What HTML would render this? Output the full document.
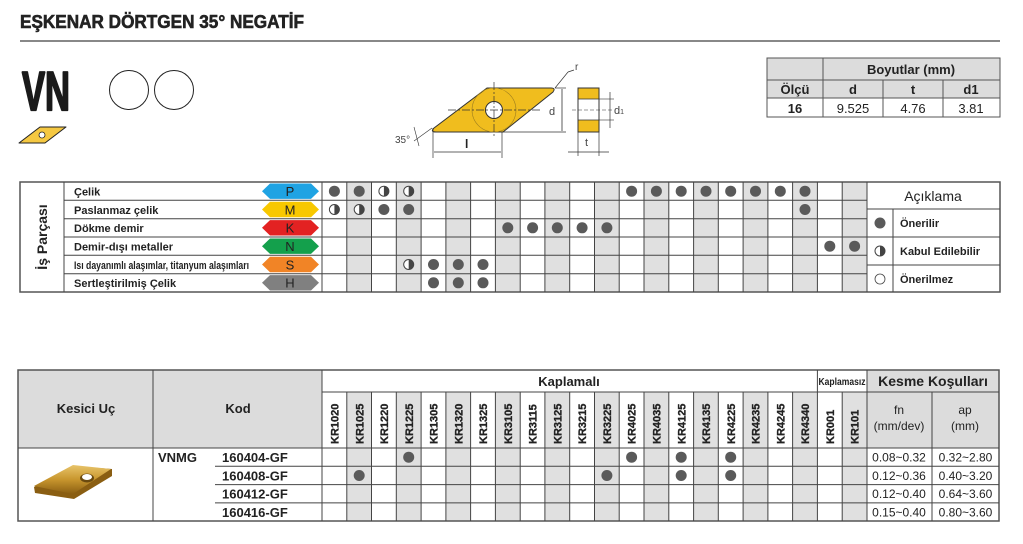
<!DOCTYPE html>
<html><head><meta charset="utf-8"><style>
html,body{margin:0;padding:0;background:#fff;}
svg{display:block;font-family:"Liberation Sans",sans-serif;}
.b{font-weight:bold}
.n{font-family:"Liberation Sans Narrow","Liberation Sans",sans-serif;font-weight:bold;}
</style></head><body>
<svg width="1023" height="544" viewBox="0 0 1023 544" xmlns="http://www.w3.org/2000/svg">
<defs>
<linearGradient id="gold" x1="0" y1="0" x2="0" y2="1">
<stop offset="0" stop-color="#e8c46a"/><stop offset="0.5" stop-color="#c8962e"/><stop offset="1" stop-color="#8a5e12"/>
</linearGradient>
</defs>
<text x="20" y="28" class="b" font-size="18" fill="#222" stroke="#222" stroke-width="0.6" textLength="284" lengthAdjust="spacingAndGlyphs">EŞKENAR DÖRTGEN 35° NEGATİF</text>
<rect x="20" y="40" width="980" height="2" fill="#888"/>
<text x="22" y="110" class="b" font-size="55" fill="#1a1a1a" stroke="#1a1a1a" stroke-width="2.2" stroke-linejoin="round" textLength="48" lengthAdjust="spacingAndGlyphs">VN</text>
<circle cx="129" cy="90" r="19.5" fill="none" stroke="#222" stroke-width="1"/>
<circle cx="174" cy="90" r="19.5" fill="none" stroke="#222" stroke-width="1"/>
<polygon points="40,127 66,127 45,143 19,143" fill="#f5c842" stroke="#222" stroke-width="1" stroke-linejoin="round"/>
<circle cx="42" cy="135" r="3" fill="#fff" stroke="#222" stroke-width="0.8"/>
<path d="M487,88 L551,88 Q556,88 553,92 L503,132 L436,132 Q430,132 434,128 Z" fill="#f0bd1e" stroke="#333" stroke-width="1"/>
<circle cx="494" cy="110" r="22" fill="none" stroke="#a08020" stroke-width="0.6"/>
<circle cx="494" cy="110" r="8.5" fill="#fff" stroke="#333" stroke-width="1"/>
<line x1="448" y1="110" x2="540" y2="110" stroke="#333" stroke-width="0.7" stroke-dasharray="8,2,2,2"/>
<line x1="494" y1="82" x2="494" y2="138" stroke="#333" stroke-width="0.7" stroke-dasharray="8,2,2,2"/>
<line x1="503" y1="132" x2="566" y2="132" stroke="#333" stroke-width="0.7"/>
<line x1="555" y1="88" x2="566" y2="88" stroke="#333" stroke-width="0.7"/>
<line x1="562" y1="89" x2="562" y2="131" stroke="#333" stroke-width="0.8"/>
<text x="549" y="115" font-size="11" fill="#444">d</text>
<line x1="555" y1="88" x2="568" y2="72" stroke="#333" stroke-width="0.7"/>
<line x1="568" y1="72" x2="574" y2="70" stroke="#333" stroke-width="0.7"/>
<text x="575" y="70" font-size="10" fill="#444">r</text>
<line x1="433" y1="128" x2="433" y2="158" stroke="#333" stroke-width="0.7"/>
<line x1="502" y1="132" x2="502" y2="158" stroke="#333" stroke-width="0.7"/>
<line x1="434" y1="152" x2="501" y2="152" stroke="#333" stroke-width="0.8"/>
<text x="465" y="148" class="b" font-size="12" fill="#222">l</text>
<text x="395" y="143" font-size="10" fill="#444">35°</text>
<line x1="414" y1="141" x2="432" y2="128" stroke="#333" stroke-width="0.6"/>
<line x1="414" y1="127" x2="419" y2="146" stroke="#333" stroke-width="0.6"/>
<rect x="578" y="88" width="21" height="44" fill="#f0bd1e" stroke="#333" stroke-width="1"/>
<rect x="578.5" y="99" width="20" height="21" fill="#fff"/>
<line x1="578" y1="99" x2="599" y2="99" stroke="#333" stroke-width="0.7"/>
<line x1="578" y1="120" x2="599" y2="120" stroke="#333" stroke-width="0.7"/>
<line x1="572" y1="110" x2="612" y2="110" stroke="#333" stroke-width="0.6" stroke-dasharray="4,2"/>
<line x1="610" y1="92" x2="610" y2="128" stroke="#333" stroke-width="0.7"/>
<line x1="599" y1="99" x2="614" y2="99" stroke="#333" stroke-width="0.6"/>
<line x1="599" y1="120" x2="614" y2="120" stroke="#333" stroke-width="0.6"/>
<text x="614" y="114" font-size="11" fill="#444">d<tspan font-size="7">1</tspan></text>
<line x1="578" y1="132" x2="578" y2="156" stroke="#333" stroke-width="0.7"/>
<line x1="599" y1="132" x2="599" y2="156" stroke="#333" stroke-width="0.7"/>
<line x1="568" y1="152" x2="609" y2="152" stroke="#333" stroke-width="0.7"/>
<text x="585" y="146" font-size="11" fill="#444">t</text>
<rect x="767" y="58" width="233" height="40" fill="#dcdcdc"/>
<g stroke="#555" stroke-width="1" fill="none">
<rect x="767" y="58" width="233" height="59"/>
<line x1="767" y1="80" x2="1000" y2="80"/>
<line x1="767" y1="98" x2="1000" y2="98"/>
<line x1="823" y1="58" x2="823" y2="117"/>
<line x1="883" y1="80" x2="883" y2="117"/>
<line x1="943" y1="80" x2="943" y2="117"/>
</g>
<g font-size="13" fill="#222" text-anchor="middle">
<text x="911" y="74" class="b">Boyutlar (mm)</text>
<text x="795" y="94" class="b">Ölçü</text>
<text x="853" y="94" class="b">d</text>
<text x="913" y="94" class="b">t</text>
<text x="971" y="94" class="b">d1</text>
<text x="795" y="113" class="b">16</text>
<text x="853" y="113">9.525</text>
<text x="913" y="113">4.76</text>
<text x="971" y="113">3.81</text>
</g>
<g fill="#e0e0e0">
<rect x="346.8" y="182" width="24.8" height="110"/><rect x="396.3" y="182" width="24.8" height="110"/>
<rect x="445.9" y="182" width="24.8" height="110"/><rect x="495.4" y="182" width="24.8" height="110"/>
<rect x="544.9" y="182" width="24.8" height="110"/><rect x="594.5" y="182" width="24.8" height="110"/>
<rect x="644.0" y="182" width="24.8" height="110"/><rect x="693.6" y="182" width="24.8" height="110"/>
<rect x="743.1" y="182" width="24.8" height="110"/><rect x="792.6" y="182" width="24.8" height="110"/>
<rect x="842.2" y="182" width="24.8" height="110"/>
</g>
<g stroke="#444" stroke-width="1" fill="none">
<rect x="20" y="182" width="980" height="110" stroke="#555" stroke-width="1.5"/>
<line x1="64" y1="182" x2="64" y2="292"/>
<line x1="64" y1="200.3" x2="867" y2="200.3"/><line x1="64" y1="218.7" x2="867" y2="218.7"/>
<line x1="64" y1="237" x2="867" y2="237"/><line x1="64" y1="255.3" x2="867" y2="255.3"/>
<line x1="64" y1="273.7" x2="867" y2="273.7"/>
<line x1="322" y1="182" x2="322" y2="292"/>
<line x1="346.8" y1="182" x2="346.8" y2="292"/><line x1="371.5" y1="182" x2="371.5" y2="292"/>
<line x1="396.3" y1="182" x2="396.3" y2="292"/><line x1="421.1" y1="182" x2="421.1" y2="292"/>
<line x1="445.9" y1="182" x2="445.9" y2="292"/><line x1="470.6" y1="182" x2="470.6" y2="292"/>
<line x1="495.4" y1="182" x2="495.4" y2="292"/><line x1="520.2" y1="182" x2="520.2" y2="292"/>
<line x1="544.9" y1="182" x2="544.9" y2="292"/><line x1="569.7" y1="182" x2="569.7" y2="292"/>
<line x1="594.5" y1="182" x2="594.5" y2="292"/><line x1="619.2" y1="182" x2="619.2" y2="292"/>
<line x1="644.0" y1="182" x2="644.0" y2="292"/><line x1="668.8" y1="182" x2="668.8" y2="292"/>
<line x1="693.6" y1="182" x2="693.6" y2="292"/><line x1="718.3" y1="182" x2="718.3" y2="292"/>
<line x1="743.1" y1="182" x2="743.1" y2="292"/><line x1="767.9" y1="182" x2="767.9" y2="292"/>
<line x1="792.6" y1="182" x2="792.6" y2="292"/><line x1="817.4" y1="182" x2="817.4" y2="292"/>
<line x1="842.2" y1="182" x2="842.2" y2="292"/><line x1="867" y1="182" x2="867" y2="292"/>
<line x1="867" y1="209" x2="1000" y2="209"/><line x1="867" y1="237" x2="1000" y2="237"/>
<line x1="867" y1="265" x2="1000" y2="265"/><line x1="893" y1="209" x2="893" y2="292"/>
</g>
<text transform="translate(47,237) rotate(-90)" text-anchor="middle" class="b" font-size="14" fill="#222">İş Parçası</text>
<g class="n" font-size="11" fill="#222">
<text x="74" y="195.5">Çelik</text>
<text x="74" y="213.8">Paslanmaz çelik</text>
<text x="74" y="232">Dökme demir</text>
<text x="74" y="250.4">Demir-dışı metaller</text>
<text x="74" y="268.8" textLength="175" lengthAdjust="spacingAndGlyphs">Isı dayanımlı alaşımlar, titanyum alaşımları</text>
<text x="74" y="287">Sertleştirilmiş Çelik</text>
</g>
<g stroke="none">
<polygon points="262,191.2 270,183.5 311,183.5 319,191.2 311,198.9 270,198.9" fill="#1fa3e3"/>
<polygon points="262,209.5 270,201.8 311,201.8 319,209.5 311,217.2 270,217.2" fill="#f8c800"/>
<polygon points="262,227.8 270,220.1 311,220.1 319,227.8 311,235.5 270,235.5" fill="#e32222"/>
<polygon points="262,246.2 270,238.5 311,238.5 319,246.2 311,253.9 270,253.9" fill="#14a04c"/>
<polygon points="262,264.5 270,256.8 311,256.8 319,264.5 311,272.2 270,272.2" fill="#f18426"/>
<polygon points="262,282.8 270,275.1 311,275.1 319,282.8 311,290.5 270,290.5" fill="#808080"/>
</g>
<g font-size="13" fill="#222" text-anchor="middle">
<text x="290" y="196">P</text><text x="290" y="214.3">M</text><text x="290" y="232.6">K</text>
<text x="290" y="251">N</text><text x="290" y="269.3">S</text><text x="290" y="287.6">H</text>
</g>
<g fill="#5a5a5a">
<circle cx="334.4" cy="191.2" r="5.5"/><circle cx="359.2" cy="191.2" r="5.5"/>
<circle cx="631.6" cy="191.2" r="5.5"/><circle cx="656.4" cy="191.2" r="5.5"/><circle cx="681.2" cy="191.2" r="5.5"/>
<circle cx="706.0" cy="191.2" r="5.5"/><circle cx="730.7" cy="191.2" r="5.5"/><circle cx="755.5" cy="191.2" r="5.5"/>
<circle cx="780.3" cy="191.2" r="5.5"/><circle cx="805.0" cy="191.2" r="5.5"/>
<circle cx="383.9" cy="209.5" r="5.5"/><circle cx="408.7" cy="209.5" r="5.5"/><circle cx="805.0" cy="209.5" r="5.5"/>
<circle cx="507.8" cy="227.8" r="5.5"/><circle cx="532.6" cy="227.8" r="5.5"/><circle cx="557.3" cy="227.8" r="5.5"/>
<circle cx="582.1" cy="227.8" r="5.5"/><circle cx="606.9" cy="227.8" r="5.5"/>
<circle cx="829.8" cy="246.2" r="5.5"/><circle cx="854.6" cy="246.2" r="5.5"/>
<circle cx="433.5" cy="264.5" r="5.5"/><circle cx="458.3" cy="264.5" r="5.5"/><circle cx="483.0" cy="264.5" r="5.5"/>
<circle cx="433.5" cy="282.8" r="5.5"/><circle cx="458.3" cy="282.8" r="5.5"/><circle cx="483.0" cy="282.8" r="5.5"/>
<circle cx="880" cy="223" r="5.5"/>
</g>
<g stroke="#444" stroke-width="1" fill="#fff">
<circle cx="383.9" cy="191.2" r="5"/><circle cx="408.7" cy="191.2" r="5"/>
<circle cx="334.4" cy="209.5" r="5"/><circle cx="359.2" cy="209.5" r="5"/>
<circle cx="408.7" cy="264.5" r="5"/><circle cx="880" cy="251" r="5"/>
<circle cx="880" cy="279" r="5" stroke-width="0.8"/>
</g>
<g fill="#444">
<path d="M383.9,186.2 A5,5 0 0 1 383.9,196.2 Z"/><path d="M408.7,186.2 A5,5 0 0 1 408.7,196.2 Z"/>
<path d="M334.4,204.5 A5,5 0 0 1 334.4,214.5 Z"/><path d="M359.2,204.5 A5,5 0 0 1 359.2,214.5 Z"/>
<path d="M408.7,259.5 A5,5 0 0 1 408.7,269.5 Z"/><path d="M880,246 A5,5 0 0 1 880,256 Z"/>
</g>
<text x="933" y="201" text-anchor="middle" font-size="14" fill="#222">Açıklama</text>
<g class="n" font-size="11" fill="#222">
<text x="900" y="227">Önerilir</text>
<text x="900" y="255">Kabul Edilebilir</text>
<text x="900" y="283">Önerilmez</text>
</g>
<rect x="18" y="370" width="304" height="78" fill="#dcdcdc"/>
<rect x="867" y="370" width="132" height="78" fill="#dcdcdc"/>
<g fill="#e0e0e0">
<rect x="346.8" y="392" width="24.8" height="129"/><rect x="396.3" y="392" width="24.8" height="129"/>
<rect x="445.9" y="392" width="24.8" height="129"/><rect x="495.4" y="392" width="24.8" height="129"/>
<rect x="544.9" y="392" width="24.8" height="129"/><rect x="594.5" y="392" width="24.8" height="129"/>
<rect x="644.0" y="392" width="24.8" height="129"/><rect x="693.6" y="392" width="24.8" height="129"/>
<rect x="743.1" y="392" width="24.8" height="129"/><rect x="792.6" y="392" width="24.8" height="129"/>
<rect x="842.2" y="392" width="24.8" height="129"/>
</g>
<g stroke="#444" stroke-width="1" fill="none">
<rect x="18" y="370" width="981" height="151" stroke="#555" stroke-width="1.5"/>
<line x1="18" y1="448" x2="999" y2="448"/>
<line x1="153" y1="370" x2="153" y2="521"/>
<line x1="322" y1="370" x2="322" y2="521"/>
<line x1="322" y1="392" x2="999" y2="392"/>
<line x1="215" y1="466.3" x2="999" y2="466.3"/><line x1="215" y1="484.6" x2="999" y2="484.6"/>
<line x1="215" y1="502.9" x2="999" y2="502.9"/>
<line x1="346.8" y1="392" x2="346.8" y2="521"/><line x1="371.5" y1="392" x2="371.5" y2="521"/>
<line x1="396.3" y1="392" x2="396.3" y2="521"/><line x1="421.1" y1="392" x2="421.1" y2="521"/>
<line x1="445.9" y1="392" x2="445.9" y2="521"/><line x1="470.6" y1="392" x2="470.6" y2="521"/>
<line x1="495.4" y1="392" x2="495.4" y2="521"/><line x1="520.2" y1="392" x2="520.2" y2="521"/>
<line x1="544.9" y1="392" x2="544.9" y2="521"/><line x1="569.7" y1="392" x2="569.7" y2="521"/>
<line x1="594.5" y1="392" x2="594.5" y2="521"/><line x1="619.2" y1="392" x2="619.2" y2="521"/>
<line x1="644.0" y1="392" x2="644.0" y2="521"/><line x1="668.8" y1="392" x2="668.8" y2="521"/>
<line x1="693.6" y1="392" x2="693.6" y2="521"/><line x1="718.3" y1="392" x2="718.3" y2="521"/>
<line x1="743.1" y1="392" x2="743.1" y2="521"/><line x1="767.9" y1="392" x2="767.9" y2="521"/>
<line x1="792.6" y1="392" x2="792.6" y2="521"/><line x1="817.4" y1="370" x2="817.4" y2="521"/>
<line x1="842.2" y1="392" x2="842.2" y2="521"/><line x1="867" y1="370" x2="867" y2="521"/>
<line x1="932" y1="392" x2="932" y2="521"/>
</g>
<g class="b" font-size="13" fill="#222" text-anchor="middle">
<text x="86" y="413">Kesici Uç</text>
<text x="238" y="413">Kod</text>
<text x="569" y="386">Kaplamalı</text>
<text x="933" y="386" font-size="14">Kesme Koşulları</text>
</g>
<text x="842" y="385" text-anchor="middle" class="n" font-size="10" fill="#222" textLength="47" lengthAdjust="spacingAndGlyphs">Kaplamasız</text>
<g font-size="12" fill="#222" text-anchor="middle">
<text x="899" y="414">fn</text><text x="899" y="430">(mm/dev)</text>
<text x="965" y="414">ap</text><text x="965" y="430">(mm)</text>
</g>
<g class="b" font-size="11" fill="#222" stroke="#222" stroke-width="0.3">
<text transform="translate(338.5,444) rotate(-90)">KR1020</text>
<text transform="translate(363.3,444) rotate(-90)">KR1025</text>
<text transform="translate(388,444) rotate(-90)">KR1220</text>
<text transform="translate(412.8,444) rotate(-90)">KR1225</text>
<text transform="translate(437.6,444) rotate(-90)">KR1305</text>
<text transform="translate(462.4,444) rotate(-90)">KR1320</text>
<text transform="translate(487.1,444) rotate(-90)">KR1325</text>
<text transform="translate(511.9,444) rotate(-90)">KR3105</text>
<text transform="translate(536.7,444) rotate(-90)">KR3115</text>
<text transform="translate(561.4,444) rotate(-90)">KR3125</text>
<text transform="translate(586.2,444) rotate(-90)">KR3215</text>
<text transform="translate(611,444) rotate(-90)">KR3225</text>
<text transform="translate(635.7,444) rotate(-90)">KR4025</text>
<text transform="translate(660.5,444) rotate(-90)">KR4035</text>
<text transform="translate(685.3,444) rotate(-90)">KR4125</text>
<text transform="translate(710.1,444) rotate(-90)">KR4135</text>
<text transform="translate(734.8,444) rotate(-90)">KR4225</text>
<text transform="translate(759.6,444) rotate(-90)">KR4235</text>
<text transform="translate(784.4,444) rotate(-90)">KR4245</text>
<text transform="translate(809.1,444) rotate(-90)">KR4340</text>
<text transform="translate(833.9,444) rotate(-90)">KR001</text>
<text transform="translate(858.7,444) rotate(-90)">KR101</text>
</g>
<g class="b" font-size="13" fill="#222">
<text x="158" y="462">VNMG</text>
<text x="222" y="462">160404-GF</text>
<text x="222" y="480.3">160408-GF</text>
<text x="222" y="498.6">160412-GF</text>
<text x="222" y="516.8">160416-GF</text>
</g>
<g font-size="12" fill="#222" text-anchor="middle">
<text x="899" y="461.6">0.08~0.32</text><text x="965.5" y="461.6">0.32~2.80</text>
<text x="899" y="479.9">0.12~0.36</text><text x="965.5" y="479.9">0.40~3.20</text>
<text x="899" y="498.2">0.12~0.40</text><text x="965.5" y="498.2">0.64~3.60</text>
<text x="899" y="516.4">0.15~0.40</text><text x="965.5" y="516.4">0.80~3.60</text>
</g>
<g fill="#5a5a5a">
<circle cx="408.7" cy="457.2" r="5.5"/><circle cx="631.6" cy="457.2" r="5.5"/>
<circle cx="681.2" cy="457.2" r="5.5"/><circle cx="730.7" cy="457.2" r="5.5"/>
<circle cx="359.2" cy="475.5" r="5.5"/><circle cx="606.9" cy="475.5" r="5.5"/>
<circle cx="681.2" cy="475.5" r="5.5"/><circle cx="730.7" cy="475.5" r="5.5"/>
</g>
<polygon points="34,487 72,466 112,469 112,476 74,499 35,493" fill="#8a5e12"/>
<polygon points="34,486 73,465 111,469 73,494" fill="url(#gold)"/>
<ellipse cx="87" cy="478" rx="7" ry="4.5" fill="#6a4a10"/>
<ellipse cx="87" cy="477" rx="5" ry="3" fill="#fff"/>
</svg>
</body></html>
